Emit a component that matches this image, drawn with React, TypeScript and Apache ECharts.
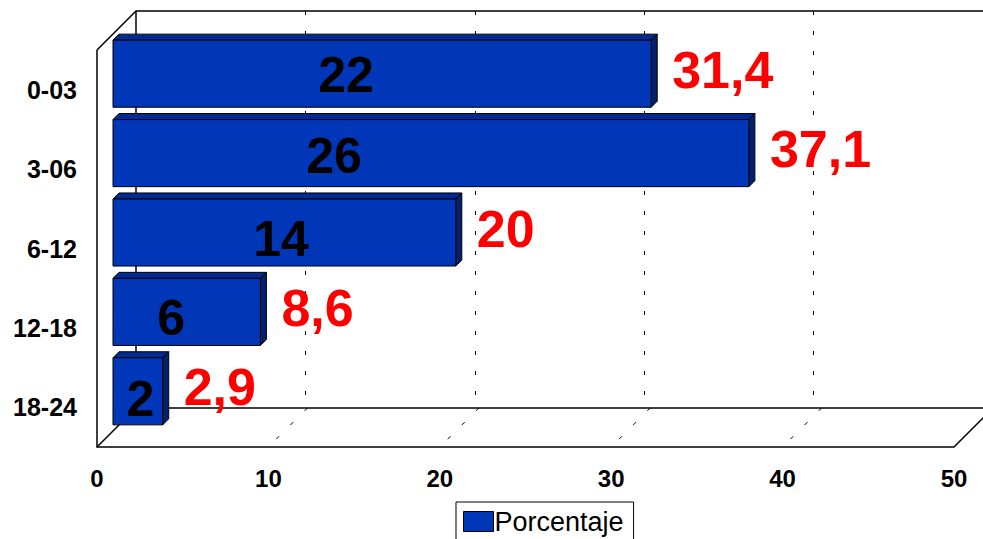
import React, { useEffect, useRef } from "react";
import * as echarts from "echarts";

// ---- data ----
const categories = ["0-03", "3-06", "6-12", "12-18", "18-24"];
const percentages = [31.4, 37.1, 20, 8.6, 2.9];
const counts = [22, 26, 14, 6, 2];
const xTicks = [0, 10, 20, 30, 40, 50];
// placement of the black count labels (x in axis units, vertical nudge in px)
const countLabelX = [13.6, 12.9, 9.8, 3.4, 1.6];
const countLabelDy = [1, 3, 6, 6, 8];

// ---- layout / style ----
const FONT = '"Liberation Sans", Arial, Helvetica, sans-serif';
const FL = 97; // front plane left
const FT = 50; // front plane top
const PW = 857; // plot width
const PH = 397; // plot height
const DEPTH = 39; // back wall offset
const BAR_OFF = 16; // bar plane offset
const BAR_D = 6; // bar depth
const FRONT_C = "#0036B8";
const TOP_C = "#002A94";
const SIDE_C = "#00216B";
const DASH = [4, 16];

const X_MIN = xTicks[0];
const X_MAX = xTicks[xTicks.length - 1];
const X_INT = xTicks[1] - xTicks[0];
const SCALE = PW / (X_MAX - X_MIN);

const fmt = (v: number) => String(v).replace(".", ",");

export default function App() {
  const ref = useRef<HTMLDivElement>(null);
  useEffect(() => {
    if (!ref.current) return;
    const chart = echarts.init(ref.current, null, { renderer: "svg" });

    const BX = FL + DEPTH;
    const BY = FT - DEPTH;
    const BB = BY + PH;
    const FB = FT + PH;
    const FR = FL + PW;
    const frame = { stroke: "#000", lineWidth: 1.5, fill: null as any };
    const graphics: any[] = [
      { type: "polyline", z: 0, shape: { points: [[FL, FT], [FL, FB], [FR, FB], [FR + DEPTH, FB - DEPTH]] }, style: frame },
      { type: "polyline", z: 0, shape: { points: [[FL, FT], [BX, BY], [BX + PW, BY]] }, style: frame },
      { type: "line", z: 0, shape: { x1: BX, y1: BY, x2: BX, y2: BB }, style: frame },
      { type: "polyline", z: 0, shape: { points: [[FL, FB], [BX, BB], [BX + PW, BB]] }, style: frame },
    ];
    xTicks.slice(1, -1).forEach((t) => {
      graphics.push({
        type: "line",
        z: 0,
        shape: { x1: BX + (t - X_MIN) * SCALE, y1: BB, x2: FL + (t - X_MIN) * SCALE, y2: FB },
        style: { stroke: "#000", lineWidth: 1, lineDash: DASH },
      });
    });

    const hiddenX = (gi: number) => ({
      gridIndex: gi,
      type: "value",
      min: X_MIN,
      max: X_MAX,
      interval: X_INT,
      axisLine: { show: false },
      axisTick: { show: false },
      axisLabel: { show: false },
      splitLine: { show: false },
    });

    const option: any = {
      animation: false,
      backgroundColor: "#fff",
      grid: [
        { left: FL, top: FT, width: PW, height: PH },
        { left: FL + DEPTH, top: FT - DEPTH, width: PW, height: PH },
        { left: FL + BAR_OFF, top: FT - BAR_OFF, width: PW, height: PH },
      ],
      xAxis: [
        {
          ...hiddenX(0),
          axisLabel: { show: true, fontSize: 24, fontWeight: "bold", color: "#000", fontFamily: FONT, margin: 19 },
        },
        {
          ...hiddenX(1),
          splitLine: {
            show: true,
            showMinLine: false,
            showMaxLine: false,
            lineStyle: { color: "#000", width: 1, type: DASH },
          },
        },
        hiddenX(2),
      ],
      yAxis: [
        {
          gridIndex: 0,
          type: "category",
          data: categories,
          inverse: true,
          axisLine: { show: false },
          axisTick: { show: false },
          splitLine: { show: false },
          axisLabel: {
            fontSize: 25,
            fontWeight: "bold",
            color: "#000",
            fontFamily: FONT,
            margin: 20,
            padding: [6, 0, 0, 0],
          },
        },
        { gridIndex: 1, type: "category", data: categories, inverse: true, show: false },
        { gridIndex: 2, type: "category", data: categories, inverse: true, show: false },
      ],
      legend: {
        data: [{ name: "Porcentaje", icon: "rect" }],
        left: 456,
        top: 502,
        itemWidth: 30,
        itemHeight: 20,
        padding: [6, 10, 6, 7],
        borderColor: "#000",
        borderWidth: 1,
        itemStyle: { borderColor: "#000", borderWidth: 1 },
        textStyle: { fontSize: 27, color: "#000", fontFamily: FONT, padding: [0, 0, 0, -4] },
      },
      graphic: graphics,
      series: [
        {
          type: "custom",
          name: "Porcentaje",
          xAxisIndex: 2,
          yAxisIndex: 2,
          z: 5,
          itemStyle: { color: FRONT_C, borderColor: "#000", borderWidth: 1 },
          encode: { x: 0, y: 1 },
          data: percentages.map((v, i) => [v, i]),
          renderItem: (params: any, api: any) => {
            const v = api.value(0) as number;
            const i = api.value(1) as number;
            const p0 = api.coord([X_MIN, i]);
            const p1 = api.coord([v, i]);
            const band = api.size([0, 1])[1];
            const h = band * 0.845;
            const x0 = p0[0];
            const x1 = p1[0];
            const y0 = p0[1] - h / 2;
            const y1 = p0[1] + h / 2;
            const d = BAR_D;
            const lc = api.coord([countLabelX[i], i]);
            const edge = { stroke: "#000", lineWidth: 1 };
            return {
              type: "group",
              children: [
                {
                  type: "polygon",
                  shape: { points: [[x0, y0], [x0 + d, y0 - d], [x1 + d, y0 - d], [x1, y0]] },
                  style: { fill: TOP_C, ...edge },
                },
                {
                  type: "polygon",
                  shape: { points: [[x1, y0], [x1 + d, y0 - d], [x1 + d, y1 - d], [x1, y1]] },
                  style: { fill: SIDE_C, ...edge },
                },
                {
                  type: "rect",
                  shape: { x: x0, y: y0, width: x1 - x0, height: h },
                  style: { fill: FRONT_C, ...edge },
                },
                {
                  type: "text",
                  style: {
                    text: String(counts[i]),
                    x: lc[0],
                    y: p0[1] + countLabelDy[i],
                    align: "center",
                    verticalAlign: "middle",
                    fontSize: 50,
                    fontWeight: "bold",
                    fontFamily: FONT,
                    fill: "#000",
                  },
                },
                {
                  type: "text",
                  style: {
                    text: fmt(v),
                    x: x1 + 21,
                    y: p0[1] - 4,
                    align: "left",
                    verticalAlign: "middle",
                    fontSize: 52,
                    fontWeight: "bold",
                    fontFamily: FONT,
                    fill: "#FF0000",
                  },
                },
              ],
            };
          },
        },
      ],
    };

    chart.setOption(option);
    return () => chart.dispose();
  }, []);

  return (
    <div
      ref={ref}
      style={{ position: "absolute", left: 0, top: 0, width: 983, height: 539, background: "#fff" }}
    />
  );
}
